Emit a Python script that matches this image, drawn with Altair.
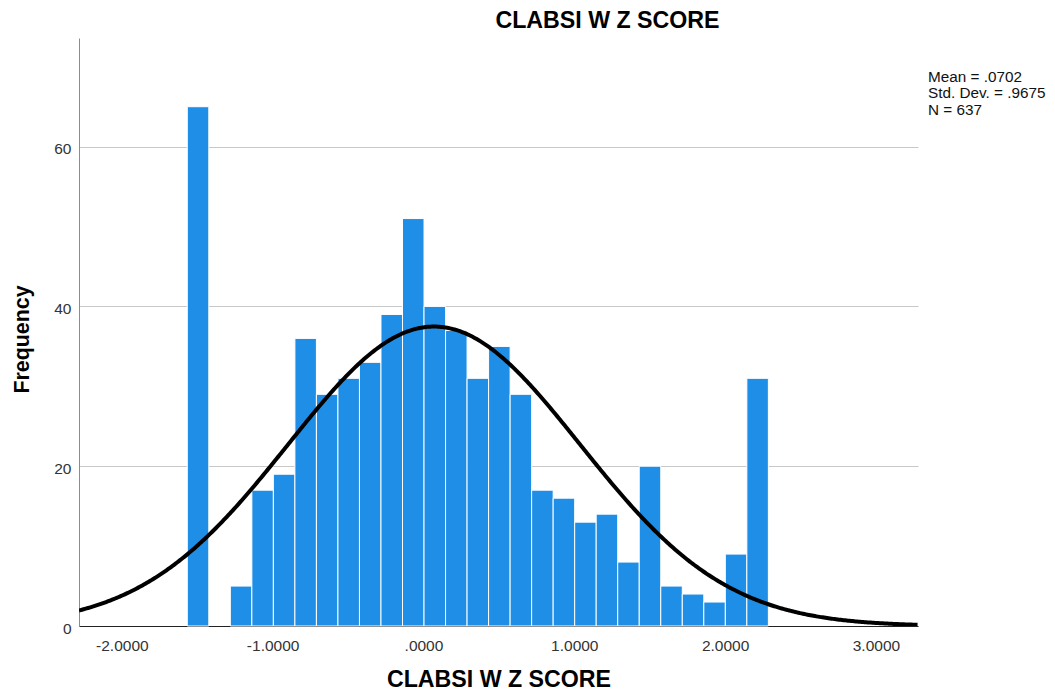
import altair as alt
import pandas as pd

# ---- data ----
counts = [65, 0, 5, 17, 19, 36, 29, 31, 33, 39, 51, 40, 37, 31, 35, 29,
          17, 16, 13, 14, 8, 20, 5, 4, 3, 9, 31]
bin_start = -1.566          # lower edge of first bin (z score)
bin_width = 0.1427          # histogram bin width
mean_z = 0.0702
sd_z = 0.9675
n_obs = 637
stats_lines = ["Mean = .0702", "Std. Dev. = .9675", "N = 637"]
x_ticks = [-2, -1, 0, 1, 2, 3]
x_tick_labels = ["-2.0000", "-1.0000", ".0000", "1.0000", "2.0000", "3.0000"]
y_ticks = [0, 20, 40, 60]
x_domain = [-2.284, 3.279]
y_domain = [0, 73.6]
chart_title = "CLABSI W Z SCORE"

lo = [bin_start + i * bin_width for i in range(len(counts))]
hist = pd.DataFrame({"lo": lo, "hi": [v + bin_width for v in lo], "count": counts})

FONT = "Liberation Sans"
BLUE = "#1f8ee6"

xscale = alt.Scale(domain=x_domain, nice=False, zero=False)
yscale = alt.Scale(domain=y_domain, nice=False, zero=True)

label_array = "[" + ",".join(f"'{s}'" for s in x_tick_labels) + "]"
x_axis = alt.Axis(
    values=x_ticks, grid=False, ticks=False, domainColor="#222222", domainWidth=1,
    labelExpr=f"{label_array}[datum.value + 2]",
    labelFont=FONT, labelFontSize=15.5, labelColor="#333333", labelPadding=12,
    title=chart_title, titleFont=FONT, titleFontSize=23.2, titleFontWeight="bold",
    titleColor="#000000", titleY=60, titleBaseline="alphabetic",
)
y_axis = alt.Axis(
    values=y_ticks, grid=True, gridColor="#c8c8c8", gridWidth=1, ticks=False,
    domainColor="#8c8c8c", domainWidth=1,
    labelFont=FONT, labelFontSize=15.5, labelColor="#333333", labelPadding=8, labelOffset=2,
    title="Frequency", titleFont=FONT, titleFontSize=21.4, titleFontWeight="bold",
    titleColor="#000000", titleX=-57, titleY=301, titleBaseline="middle", titleAngle=270,
)

bars = alt.Chart(hist).transform_filter("datum.count > 0").mark_rect(
    color=BLUE, stroke="#ffffff", strokeWidth=1
).encode(
    x=alt.X("lo:Q", scale=xscale, axis=x_axis),
    x2="hi:Q",
    y=alt.Y("count:Q", scale=yscale, axis=y_axis),
    y2=alt.datum(0),
)

# fitted normal curve from the printed mean, std. dev. and N
curve = alt.Chart(alt.sequence(x_domain[0], x_domain[1] + 0.001, 0.01, as_="z")).transform_calculate(
    f=f"{n_obs}*{bin_width}/({sd_z}*sqrt(2*PI))*exp(-0.5*pow((datum.z-{mean_z})/{sd_z},2))"
).mark_line(color="#000000", strokeWidth=4, clip=True).encode(
    x=alt.X("z:Q", scale=xscale, axis=x_axis),
    y=alt.Y("f:Q", scale=yscale, axis=y_axis),
)

one = pd.DataFrame({"k": [0]})

stats = alt.Chart(one).mark_text(
    align="left", baseline="top", font=FONT, fontSize=15.3, lineHeight=16.5, color="#111111"
).encode(
    x=alt.value(849), y=alt.value(31.5), text=alt.value(stats_lines)
)

title_text = alt.Chart(one).mark_text(
    align="center", baseline="alphabetic", font=FONT, fontSize=23.2, fontWeight="bold",
    color="#000000"
).encode(
    x=alt.value(528.5), y=alt.value(-10), text=alt.value(chart_title)
)

chart = alt.layer(bars, curve, stats, title_text).properties(
    width=839, height=588,
    padding={"left": 71, "top": 30, "right": 129, "bottom": 66},
    autosize=alt.AutoSizeParams(type="none"),
).configure_view(stroke=None)

chart.save("out.html", embed_options={"renderer": "svg", "actions": False})
